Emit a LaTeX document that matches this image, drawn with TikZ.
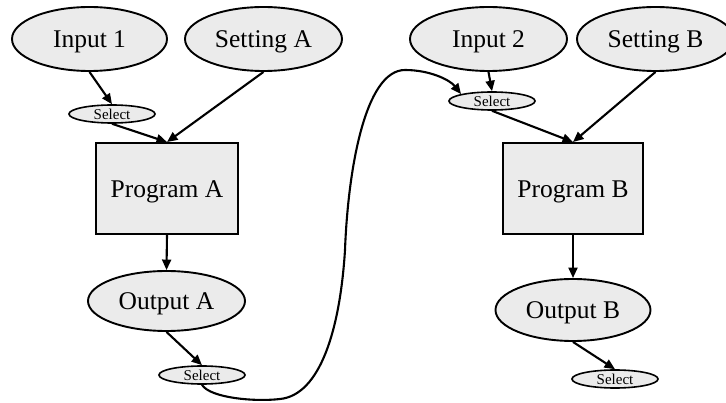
\documentclass[tikz,border=0pt]{standalone}
\usepackage{fontspec}
\setmainfont{Liberation Serif}
\usetikzlibrary{shapes.geometric,arrows.meta}
\definecolor{nodefill}{HTML}{EBEBEB}
% lower a label a little while keeping its box dimensions
\newcommand{\lowtext}[1]{\raisebox{-3pt}[\height][\depth]{#1}}
\tikzset{
  base/.style={draw=black, fill=nodefill, line width=1.9pt, inner sep=0pt},
  ell/.style={base, ellipse, font=\fontsize{25.5}{28}\selectfont},
  selnode/.style={base, ellipse, line width=1.6pt, minimum width=86pt, minimum height=18pt, font=\fontsize{15}{16}\selectfont},
  prog/.style={base, rectangle, font=\fontsize{25.5}{28}\selectfont},
  arr/.style={line width=2.1pt, -{Triangle[length=10.5pt,width=9pt]}}
}
\begin{document}
\begin{tikzpicture}[x=1pt,y=-1pt]
\useasboundingbox (0,0) rectangle (726,403);
\clip (0,0) rectangle (726,403);

% left chain
\node[ell, minimum width=155pt, minimum height=64pt] (in1) at (89.5,39) {\lowtext{Input 1}};
\node[ell, minimum width=157pt, minimum height=64pt] (setA) at (263.5,39) {\lowtext{Setting A}};
\node[selnode] (selA1) at (112,114) {Select};
\node[prog, minimum width=142pt, minimum height=91pt] (progA) at (167,188.5) {\lowtext{Program A}};
\node[ell, minimum width=157pt, minimum height=60pt] (outA) at (166.5,301) {\lowtext{Output A}};
\node[selnode] (selA2) at (202,375) {Select};

% right chain
\node[ell, minimum width=157pt, minimum height=64pt] (in2) at (488.5,39) {\lowtext{Input 2}};
\node[ell, minimum width=157pt, minimum height=64pt] (setB) at (655.5,39) {\lowtext{Setting B}};
\node[selnode] (selB1) at (492,101) {Select};
\node[prog, minimum width=140pt, minimum height=91pt] (progB) at (573,188.5) {\lowtext{Program B}};
\node[ell, minimum width=155pt, minimum height=62pt] (outB) at (573,310) {\lowtext{Output B}};
\node[selnode] (selB2) at (615,379) {Select};

% connectors
\draw[arr] (in1.south) -- (selA1.north);
\draw[arr] (selA1.south) -- (progA.north);
\draw[arr] (setA.south) -- (progA.north);
\draw[arr] (progA.south) -- (outA.north);
\draw[arr] (outA.south) -- (selA2.north);

\draw[arr] (in2.south) -- (selB1.north);
\draw[arr] (selB1.south) -- (progB.north);
\draw[arr] (setB.south) -- (progB.north);
\draw[arr] (progB.south) -- (outB.north);
\draw[arr] (outB.south) -- (selB2.north);

% output of A fed into the input selection of B
\draw[arr] (selA2.south)
  .. controls (210,398) and (255,402) .. (280,399)
  .. controls (320,395) and (340,330) .. (345,250)
  .. controls (348,170) and (365,70) .. (405,70)
  .. controls (430,70) and (450,80) .. (selB1.north west);
\end{tikzpicture}
\end{document}
